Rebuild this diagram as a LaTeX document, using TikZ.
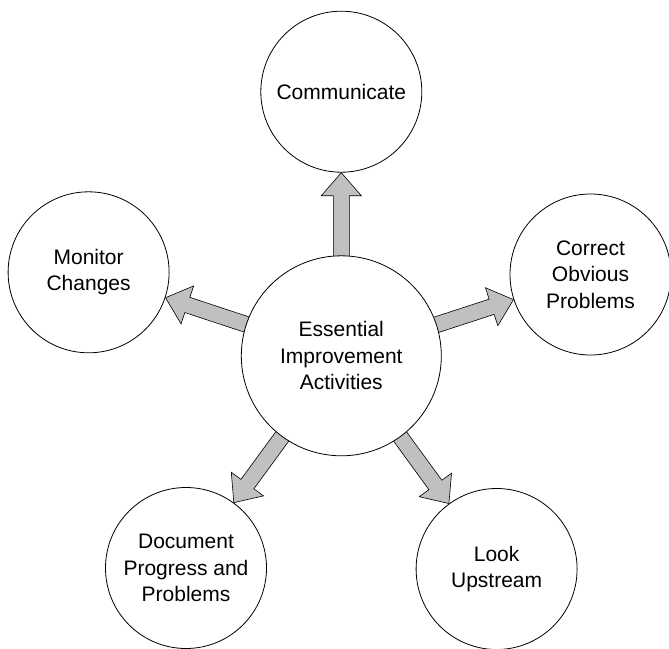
\documentclass[tikz,border=0pt]{standalone}
\usepackage{fontspec}
\setmainfont{Liberation Sans}
\usetikzlibrary{calc,backgrounds}
\tikzset{
  bubble/.style={circle,draw=black,line width=0.8pt,fill=white,inner sep=0pt,
    minimum size=161pt,align=center,font=\fontsize{21}{26.5}\selectfont},
  hub/.style={bubble,minimum size=200pt},
  blockarrow/.style={draw=black,line width=0.6pt,fill=arrowgray,line join=miter}
}
\definecolor{arrowgray}{RGB}{192,192,192}
\newcommand{\blockarrow}[2]{%
  \coordinate (A) at ($(#1.center)!97pt!(#2.center)$);
  \coordinate (B) at ($(#2.center)!81pt!(#1.center)$);
  \coordinate (H) at ($(B)!23pt!(A)$);
  \draw[blockarrow] ($(A)!8pt!90:(B)$) -- ($(H)!8pt!-90:(A)$) -- ($(H)!20pt!-90:(A)$)
    -- (B) -- ($(H)!20pt!90:(A)$) -- ($(H)!8pt!90:(A)$) -- ($(A)!8pt!-90:(B)$) -- cycle;
}
\begin{document}
\begin{tikzpicture}[x=1pt,y=-1pt]
\useasboundingbox (0,0) rectangle (669,648);
\node[hub] (hub) at (341.3,355.8) {Essential\\Improvement\\Activities};
\node[bubble] (comm) at (341.3,91.7) {Communicate};
\node[bubble] (corr) at (590.5,274.5) {Correct\\Obvious\\Problems};
\node[bubble] (mon) at (88.6,272.3) {Monitor\\Changes};
\node[bubble] (doc) at (186,568) {Document\\Progress and\\Problems};
\node[bubble] (look) at (496.6,569) {Look\\Upstream};
\begin{scope}[on background layer]
  \blockarrow{hub}{comm}
  \blockarrow{hub}{corr}
  \blockarrow{hub}{mon}
  \blockarrow{hub}{doc}
  \blockarrow{hub}{look}
\end{scope}
\end{tikzpicture}
\end{document}
